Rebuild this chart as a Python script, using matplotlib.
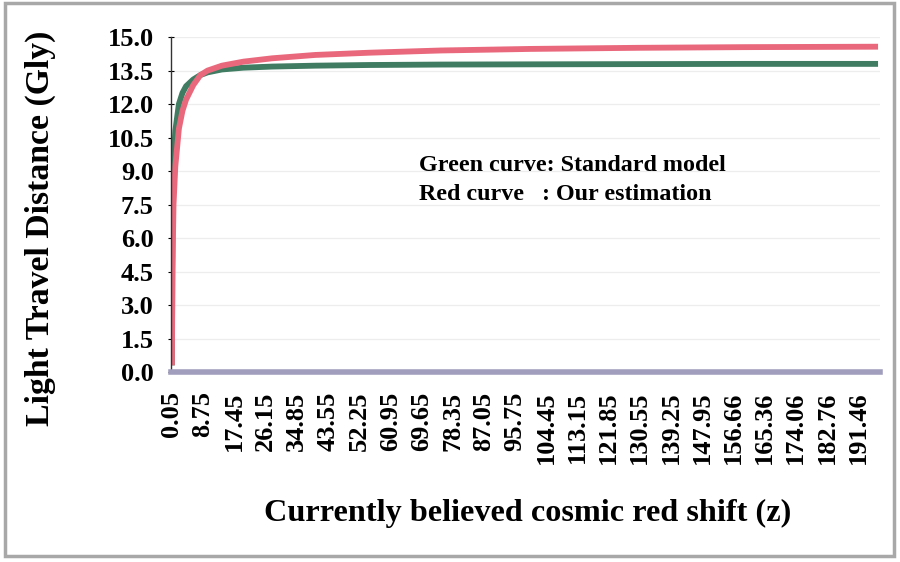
#!/usr/bin/env python3
"""Light travel distance vs. cosmic red shift: standard model vs. our estimation."""
import matplotlib
matplotlib.use("Agg")
import matplotlib.pyplot as plt
from matplotlib.patches import Rectangle

# ── data ──────────────────────────────────────────────────────────────────
Z = [0.05, 0.2, 0.5, 1, 2, 3, 4, 6, 8, 10, 14, 20, 28, 40, 55, 75, 100,
     130, 160, 197]
GREEN = [0.3, 6.5, 9.3, 10.8, 12.0, 12.5, 12.8, 13.1, 13.3, 13.42, 13.55,
         13.63, 13.68, 13.72, 13.75, 13.77, 13.78, 13.79, 13.8, 13.8]
RED = [0.3, 4.5, 7.5, 9.2, 10.9, 11.7, 12.2, 12.85, 13.3, 13.5, 13.72,
       13.9, 14.05, 14.2, 14.3, 14.4, 14.47, 14.52, 14.55, 14.57]

X_TICKS = [0.05, 8.75, 17.45, 26.15, 34.85, 43.55, 52.25, 60.95, 69.65,
           78.35, 87.05, 95.75, 104.45, 113.15, 121.85, 130.55, 139.25,
           147.95, 156.66, 165.36, 174.06, 182.76, 191.46]
X_LABELS = [f"{v:.2f}" for v in X_TICKS]
Y_TICKS = [0.0, 1.5, 3.0, 4.5, 6.0, 7.5, 9.0, 10.5, 12.0, 13.5, 15.0]

GREEN_C = "#3f7c62"
RED_C = "#e9687c"
SERIF = "Liberation Serif"

fig = plt.figure(figsize=(9, 5.62), dpi=100)
ax = fig.add_axes([0.19, 0.338, 0.788, 0.596])

ax.plot(Z, GREEN, color=GREEN_C, lw=4.2, solid_capstyle="butt")
ax.plot(Z, RED, color=RED_C, lw=4.2, solid_capstyle="butt")

ax.set_xlim(-0.2, 197.6)
ax.set_ylim(0, 15)

ax.set_yticks(Y_TICKS)
ax.set_yticklabels([f"{v:.1f}" for v in Y_TICKS], fontfamily=SERIF,
                   fontweight="bold", fontsize=19)
ax.set_xticks(X_TICKS)
ax.set_xticklabels(X_LABELS, rotation=90, fontfamily=SERIF,
                   fontweight="bold", fontsize=19)
ax.tick_params(axis="x", length=0, pad=14)
ax.tick_params(axis="y", direction="inout", length=5, width=0.8, pad=10)

ax.grid(axis="y", color="#ededed", lw=0.9)
ax.set_axisbelow(True)

for side in ("top", "right"):
    ax.spines[side].set_visible(False)
ax.spines["left"].set_color("#333333")
ax.spines["left"].set_linewidth(1.0)
ax.spines["bottom"].set_color("#a19dbd")
ax.spines["bottom"].set_linewidth(4)

fig.text(0.045, 0.594, "Light Travel Distance (Gly)", rotation=90,
         fontfamily=SERIF, fontweight="bold", fontsize=24.3,
         ha="center", va="center")
fig.text(0.586, 0.087, "Currently believed cosmic red shift (z)",
         fontfamily=SERIF, fontweight="bold", fontsize=23.2,
         ha="center", va="center")

ax.text(0.349, 0.574, "Green curve: Standard model\nRed curve   : Our estimation",
        transform=ax.transAxes, fontfamily=SERIF, fontweight="bold",
        fontsize=17.3, va="center", ha="left", linespacing=1.5)

# chart-area frame of the scanned figure
fig.patches.append(Rectangle((0.006, 0.01), 0.987, 0.985, transform=fig.transFigure,
                             fill=False, edgecolor="#a8a8a8", lw=2.5))

fig.savefig("out.png", dpi=100)
